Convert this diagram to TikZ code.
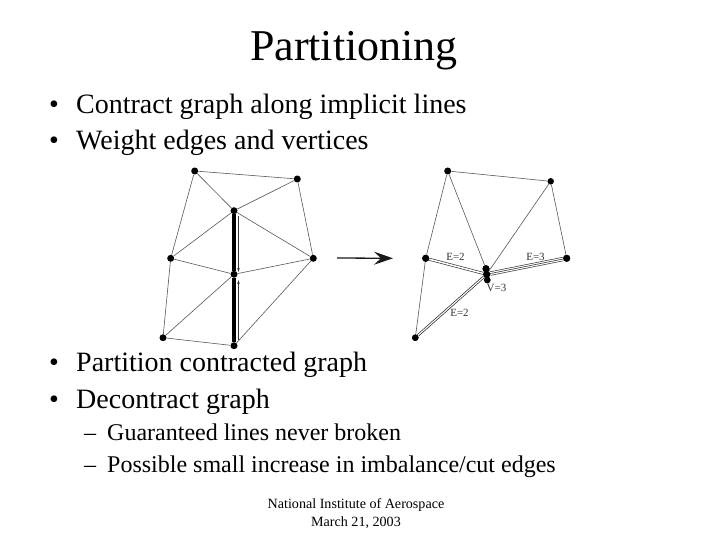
\documentclass[tikz,border=0pt]{standalone}
\usepackage{fontspec}
\setmainfont{Liberation Serif}
\usetikzlibrary{arrows.meta}
\newcommand{\fs}[1]{\fontsize{#1pt}{#1pt}\selectfont}
\tikzset{
  x=1pt,y=-1pt,
  vtx/.style={circle,fill=black,inner sep=0pt,minimum size=7pt},
  vts/.style={circle,fill=black,inner sep=0pt,minimum size=6.5pt},
  thinedge/.style={draw=black!65,line width=0.6pt},
  lineedge/.style={draw=black,line width=3.6pt},
  mini/.style={draw=black!80,line width=0.6pt,-{Stealth[length=4pt,width=2.5pt]}},
  dbl/.style={draw=black!80,double=white,double distance=1.5pt,line width=0.65pt},
  dbt/.style={draw=black!85,double=white,double distance=1.1pt,line width=0.7pt},
  tri/.style={draw=black!80,line width=4.2pt,postaction={draw=white,line width=2.9pt},postaction={draw=black!80,line width=0.6pt}},
  bull/.style={anchor=base west,inner sep=0pt,font=\fs{28}},
  sub/.style={anchor=base west,inner sep=0pt,font=\fs{24}},
  foot/.style={anchor=base,inner sep=0pt,font=\fs{14.1}},
  elab/.style={inner sep=0pt,font=\fs{11},text=black!80},
}
\begin{document}
\begin{tikzpicture}
\useasboundingbox (0,0) rectangle (720,540);
\fill[white] (0,0) rectangle (720,540);
% texts
\node[anchor=base,inner sep=0pt,font=\fs{44}] (title) at (354,61) {Partitioning};
\node[bull] (b1d) at (49,113.3) {•};
\node[bull] (b1) at (76,113.3) {Contract graph along implicit lines};
\node[bull] (b2d) at (49,149.3) {•};
\node[bull] (b2) at (76,149.3) {Weight edges and vertices};
\node[bull] (b3d) at (49,371) {•};
\node[bull] (b3) at (76,371) {Partition contracted graph};
\node[bull] (b4d) at (49,408) {•};
\node[bull] (b4) at (76,408) {Decontract graph};
\node[sub] (s1d) at (84,440.7) {–};
\node[sub] (s1) at (107,440.7) {Guaranteed lines never broken};
\node[sub] (s2d) at (84,472) {–};
\node[sub] (s2) at (107,472) {Possible small increase in imbalance/cut edges};
\node[foot] (f1) at (356,508) {National Institute of Aerospace};
\node[foot] (f2) at (356,526) {March 21, 2003};
% left graph
\node[vtx] (A) at (194.7,171) {};
\node[vtx] (B) at (297.3,179) {};
\node[vtx] (C) at (234,210.7) {};
\node[vtx] (D) at (170.7,258.3) {};
\node[vtx] (E) at (313.3,258.3) {};
\node[vtx] (F) at (234,274.3) {};
\node[vtx] (G) at (163,337.7) {};
\node[vtx] (H) at (234,345.7) {};
\foreach \a/\b in {A/B,A/C,A/D,B/C,B/E,C/D,C/E,D/F,E/F,D/G,F/G,G/H,F/H,E/H}
  \draw[thinedge] (\a) -- (\b);
\draw[lineedge] (C) -- (F);
\draw[lineedge] (F) -- (H);
\coordinate (m1a) at (238.5,216);
\coordinate (m1b) at (238.5,272);
\coordinate (m2a) at (238.5,340);
\coordinate (m2b) at (238.5,280);
\draw[mini] (m1a) -- (m1b);
\draw[mini] (m2a) -- (m2b);
% arrow
\coordinate (arrA) at (337,258);
\coordinate (arrB) at (393,258.3);
\draw[line width=1.3pt,black!90,-{Stealth[length=19pt,width=13pt,inset=7pt]}] (arrA) -- (arrB);
% right graph
\node[vtx] (a) at (447.7,171) {};
\node[vts] (b) at (550.7,181.3) {};
\node[vtx] (d) at (425.7,258.3) {};
\node[vtx] (e) at (566.7,258.3) {};
\node[vts] (g) at (415.3,337.7) {};
\node[vtx] (c1) at (486,268.7) {};
\node[vtx] (c2) at (486.7,274.3) {};
\node[vts] (c3) at (487.3,280) {};
\foreach \a/\b in {a/b,a/d,a/c1,b/e,b/c2,d/g}
  \draw[thinedge] (\a) -- (\b);
\draw[dbl] (d) -- (c2);
\draw[tri] (e) -- (c2);
\draw[dbt] (g) -- (c2);
\node[vtx] at (c1) {};
\node[vtx] at (c2) {};
\node[vts] at (c3) {};
\node[vtx] at (d) {};
\node[vtx] at (e) {};
\node[vts] at (g) {};
\node[elab] (l1) at (455.5,257) {E=2};
\node[elab] (l2) at (535.5,257) {E=3};
\node[elab] (l3) at (496.5,287.7) {V=3};
\node[elab] (l4) at (459.5,313) {E=2};
\end{tikzpicture}
\end{document}
